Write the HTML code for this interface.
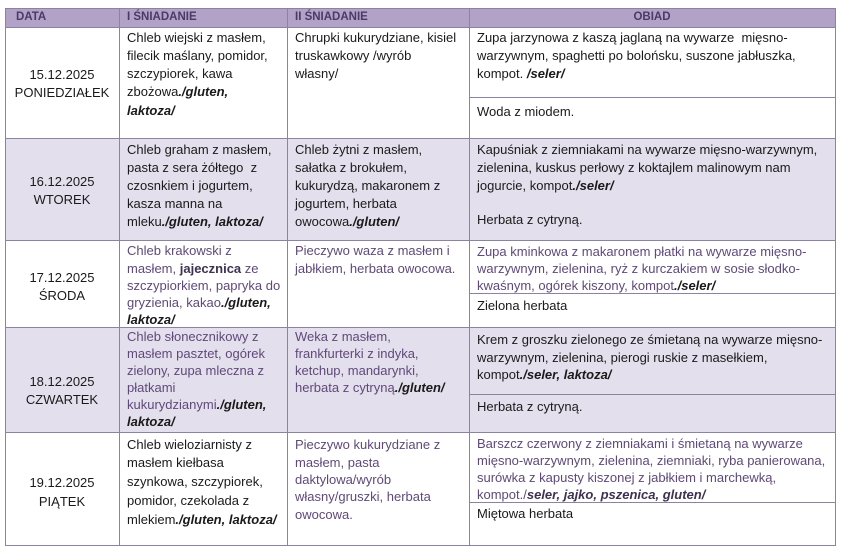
<!DOCTYPE html>
<html>
<head>
<meta charset="utf-8">
<style>
  html,body{margin:0;padding:0;background:#fff;}
  body{width:842px;height:552px;position:relative;overflow:hidden;font-family:"Liberation Sans","DejaVu Sans",sans-serif;font-size:13px;color:#1a1a1a;}
  .bg{position:absolute;}
  .h{position:absolute;height:1px;background:#8c83a2;}
  .v{position:absolute;width:1px;background:#8c83a2;}
  .b{position:absolute;white-space:nowrap;}
  .d{position:absolute;left:5px;width:114px;text-align:center;line-height:18px;white-space:nowrap;}
  .hd{position:absolute;top:8px;height:19px;line-height:19px;font-size:11.5px;font-weight:bold;color:#4a3a66;white-space:nowrap;}
  .p{color:#5f497a;}
  .k{color:#1a1a1a;}
  bi{font-weight:bold;font-style:italic;}
</style>
</head>
<body>
<!-- backgrounds -->
<div class="bg" style="left:5px;top:8px;width:830px;height:19px;background:#b3a2c7;"></div>
<div class="bg" style="left:5px;top:138px;width:830px;height:102px;background:#e4dfec;"></div>
<div class="bg" style="left:5px;top:327px;width:830px;height:105px;background:#e4dfec;"></div>

<!-- horizontal lines -->
<div class="h" style="left:5px;top:8px;width:831px;"></div>
<div class="h" style="left:5px;top:27px;width:831px;"></div>
<div class="h" style="left:5px;top:138px;width:831px;"></div>
<div class="h" style="left:5px;top:240px;width:831px;"></div>
<div class="h" style="left:5px;top:327px;width:831px;"></div>
<div class="h" style="left:5px;top:432px;width:831px;"></div>
<div class="h" style="left:5px;top:545px;width:831px;"></div>
<!-- inner obiad lines -->
<div class="h" style="left:469px;top:97px;width:367px;"></div>
<div class="h" style="left:469px;top:293px;width:367px;"></div>
<div class="h" style="left:469px;top:394px;width:367px;"></div>
<div class="h" style="left:469px;top:502px;width:367px;"></div>

<!-- vertical lines -->
<div class="v" style="left:5px;top:8px;height:538px;"></div>
<div class="v" style="left:119px;top:8px;height:538px;"></div>
<div class="v" style="left:287px;top:8px;height:538px;"></div>
<div class="v" style="left:469px;top:8px;height:538px;"></div>
<div class="v" style="left:835px;top:8px;height:538px;"></div>

<!-- header -->
<div class="hd" style="left:16px;">DATA</div>
<div class="hd" style="left:127px;">I ŚNIADANIE</div>
<div class="hd" style="left:295px;">II ŚNIADANIE</div>
<div class="hd" style="left:469px;width:366px;text-align:center;">OBIAD</div>

<!-- Row 1 -->
<div class="d" style="top:66px;">15.12.2025<br>PONIEDZIAŁEK</div>
<div class="b k" style="left:127px;top:28.5px;line-height:18.3px;">Chleb wiejski z masłem,<br>filecik maślany, pomidor,<br>szczypiorek, kawa<br>zbożowa<bi>./gluten,</bi><br><bi>laktoza/</bi></div>
<div class="b k" style="left:295px;top:28.5px;line-height:18.3px;">Chrupki kukurydziane, kisiel<br>truskawkowy /wyrób<br>własny/</div>
<div class="b k" style="left:477px;top:28.5px;line-height:18.3px;">Zupa jarzynowa z kaszą jaglaną na wywarze&nbsp; mięsno-<br>warzywnym, spaghetti po bolońsku, suszone jabłuszka,<br>kompot. <bi>/seler/</bi></div>
<div class="b k" style="left:477px;top:102.5px;line-height:18.3px;">Woda z miodem.</div>

<!-- Row 2 -->
<div class="d" style="top:173px;">16.12.2025<br>WTOREK</div>
<div class="b k" style="left:127px;top:141.1px;line-height:18px;">Chleb graham z masłem,<br>pasta z sera żółtego&nbsp; z<br>czosnkiem i jogurtem,<br>kasza manna na<br>mleku<bi>./gluten, laktoza/</bi></div>
<div class="b k" style="left:295px;top:141.1px;line-height:18px;">Chleb żytni z masłem,<br>sałatka z brokułem,<br>kukurydzą, makaronem z<br>jogurtem, herbata<br>owocowa<bi>./gluten/</bi></div>
<div class="b k" style="left:477px;top:141.1px;line-height:18px;">Kapuśniak z ziemniakami na wywarze mięsno-warzywnym,<br>zielenina, kuskus perłowy z koktajlem malinowym nam<br>jogurcie, kompot<bi>./seler/</bi></div>
<div class="b k" style="left:477px;top:211.1px;line-height:18px;">Herbata z cytryną.</div>

<!-- Row 3 -->
<div class="d" style="top:269px;">17.12.2025<br>ŚRODA</div>
<div class="b p" style="left:127px;top:242.4px;line-height:17.2px;">Chleb krakowski z<br>masłem, <b style="color:#3f3151">jajecznica</b> ze<br>szczypiorkiem, papryka do<br>gryzienia, kakao<bi style="color:#1a1a1a">./gluten,</bi><br><bi style="color:#1a1a1a">laktoza/</bi></div>
<div class="b p" style="left:295px;top:242.4px;line-height:17.2px;">Pieczywo waza z masłem i<br>jabłkiem, herbata owocowa.</div>
<div class="b p" style="left:477px;top:243px;line-height:17.1px;">Zupa kminkowa z makaronem płatki na wywarze mięsno-<br>warzywnym, zielenina, ryż z kurczakiem w sosie słodko-<br>kwaśnym, ogórek kiszony, kompot<bi style="color:#1a1a1a">./seler/</bi></div>
<div class="b k" style="left:477px;top:297.4px;line-height:17.2px;">Zielona herbata</div>

<!-- Row 4 -->
<div class="d" style="top:372.5px;line-height:18.5px;">18.12.2025<br>CZWARTEK</div>
<div class="b p" style="left:127px;top:327.6px;line-height:17.1px;">Chleb słonecznikowy z<br>masłem pasztet, ogórek<br>zielony, zupa mleczna z<br>płatkami<br>kukurydzianymi<bi style="color:#1a1a1a">./gluten,</bi><br><bi style="color:#1a1a1a">laktoza/</bi></div>
<div class="b p" style="left:295px;top:327.6px;line-height:17.1px;">Weka z masłem,<br>frankfurterki z indyka,<br>ketchup, mandarynki,<br>herbata z cytryną<bi style="color:#1a1a1a">./gluten/</bi></div>
<div class="b k" style="left:477px;top:331.25px;line-height:17.5px;">Krem z groszku zielonego ze śmietaną na wywarze mięsno-<br>warzywnym, zielenina, pierogi ruskie z masełkiem,<br>kompot<bi>./seler, laktoza/</bi></div>
<div class="b k" style="left:477px;top:398.25px;line-height:17.5px;">Herbata z cytryną.</div>

<!-- Row 5 -->
<div class="d" style="top:472.5px;line-height:19px;">19.12.2025<br>PIĄTEK</div>
<div class="b k" style="left:127px;top:435.6px;line-height:18.8px;">Chleb wieloziarnisty z<br>masłem kiełbasa<br>szynkowa, szczypiorek,<br>pomidor, czekolada z<br>mlekiem<bi>./gluten, laktoza/</bi></div>
<div class="b p" style="left:295px;top:436.35px;line-height:17.3px;">Pieczywo kukurydziane z<br>masłem, pasta<br>daktylowa/wyrób<br>własny/gruszki, herbata<br>owocowa.</div>
<div class="b p" style="left:477px;top:434.5px;line-height:17px;">Barszcz czerwony z ziemniakami i śmietaną na wywarze<br>mięsno-warzywnym, zielenina, ziemniaki, ryba panierowana,<br>surówka z kapusty kiszonej z jabłkiem i marchewką,<br>kompot./<bi style="color:#3f3151">seler, jajko, pszenica, gluten/</bi></div>
<div class="b k" style="left:477px;top:505px;line-height:17.3px;">Miętowa herbata</div>
</body>
</html>
